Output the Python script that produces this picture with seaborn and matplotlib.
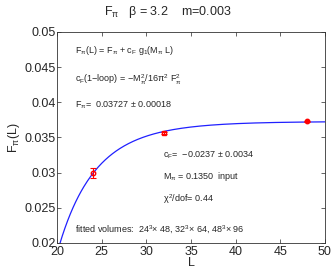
import numpy as np
import pandas as pd
import seaborn as sns
import matplotlib
matplotlib.use("Agg")
import matplotlib.pyplot as plt

# data
L_data = [24, 32, 48]
F_data = [0.02995, 0.03565, 0.03730]
F_err = [0.00065, 0.00015, 0.00010]
markers = ["o", "s", "o"]
fills = ["none", "none", "red"]

# fit parameters printed on the chart
F_pi = 0.03727
c_F = -0.0237
M_pi = 0.1350


def bessel_k1(x):
    # K1(x) = int_0^inf exp(-x cosh t) cosh t dt
    t = np.linspace(0, 8, 4001)
    ch = np.cosh(t)
    vals = np.exp(-np.outer(x, ch)) * ch
    return np.trapezoid(vals, t, axis=1)


def g1(x):
    # sum over lattice vectors, multiplicities of |n|^2
    mult = {1: 6, 2: 12, 3: 8, 4: 6, 5: 24, 6: 24, 8: 12, 9: 30, 10: 24}
    tot = np.zeros_like(x)
    for n2, m in mult.items():
        z = np.sqrt(n2) * x
        tot += m * 4 * bessel_k1(z) / z
    return tot


L_fit = np.linspace(20, 50, 300)
fit = pd.DataFrame({"L": L_fit, "F": F_pi + c_F * g1(M_pi * L_fit)})

sns.set_style("ticks")
plt.rcParams["font.family"] = ["Liberation Sans", "DejaVu Sans"]
plt.rcParams["mathtext.fontset"] = "custom"
plt.rcParams["mathtext.rm"] = "Liberation Sans"
plt.rcParams["mathtext.it"] = "Liberation Sans"

fig = plt.figure(figsize=(3.35, 2.73), dpi=100)
ax = fig.add_axes([0.170, 0.110, 0.800, 0.773])

sns.lineplot(data=fit, x="L", y="F", color="#2020ff", lw=0.9, ax=ax)
for x, y, e, mk, fc in zip(L_data, F_data, F_err, markers, fills):
    ax.errorbar(x, y, yerr=e, fmt=mk, ms=3.2, mfc=fc, mec="red",
                ecolor="red", elinewidth=0.8, capsize=2, capthick=0.8)

ax.set_xlim(20, 50)
ax.set_ylim(0.02, 0.05)
ax.set_xticks([20, 25, 30, 35, 40, 45, 50])
ax.set_yticks([0.02, 0.025, 0.03, 0.035, 0.04, 0.045, 0.05])
ax.set_yticklabels(["0.02", "0.025", "0.03", "0.035", "0.04", "0.045", "0.05"])
ax.tick_params(direction="in", top=True, right=True, labelsize=9, length=3,
               width=0.5, pad=1)
ax.tick_params(axis="x", pad=2.5)
for s in ax.spines.values():
    s.set_linewidth(0.6)
    s.set_color("#333333")

ax.set_xlabel("L", fontsize=9, labelpad=-1)
ax.set_ylabel(r"F$_\pi$(L)", fontsize=9, labelpad=2)
fig.suptitle(r"F$_\pi$   $\beta$ = 3.2    m=0.003", fontsize=9, y=0.985)

fs = 6.5
ax.text(22.0, 0.0474, r"F$_\pi$(L) = F$_\pi$ + c$_F$ g$_1$(M$_\pi$ L)", fontsize=fs, va="center")
ax.text(22.0, 0.0432, r"c$_F$(1$-$loop) = $-$M$_\pi^2$/16$\pi^2$ F$_\pi^2$", fontsize=fs, va="center")
ax.text(22.0, 0.0396, r"F$_\pi$=  0.03727 $\pm$ 0.00018", fontsize=fs, va="center")
ax.text(31.9, 0.0325, r"c$_F$=  $-$0.0237 $\pm$ 0.0034", fontsize=fs, va="center")
ax.text(31.9, 0.0295, r"M$_\pi$ = 0.1350  input", fontsize=fs, va="center")
ax.text(31.9, 0.0262, r"$\chi^2$/dof= 0.44", fontsize=fs, va="center")
ax.text(22.0, 0.0219, r"fitted volumes:  24$^3$$\times$ 48, 32$^3$$\times$ 64, 48$^3$$\times$ 96",
        fontsize=fs, va="center")

fig.savefig("out.png", dpi=100)
